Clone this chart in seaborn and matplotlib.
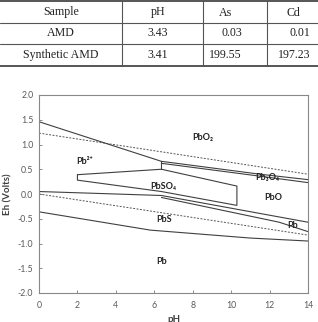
import matplotlib
matplotlib.use("Agg")
import matplotlib.pyplot as plt
from matplotlib.lines import Line2D
import seaborn as sns

# ---- table data ----
col_headers = ["Sample", "pH", "As", "Cd"]
samples = ["AMD", "Synthetic AMD"]
ph_vals = ["3.43", "3.41"]
as_vals = ["0.03", "199.55"]
cd_vals = ["0.01", "197.23"]

# ---- Eh-pH diagram data ----
water_up_ph = [0, 14]
water_up_eh = [1.23, 0.40]
water_lo_ph = [0, 14]
water_lo_eh = [0.0, -0.83]

pbo2_ph = [0, 6.37, 11.5, 14]
pbo2_eh = [1.46, 0.66, 0.40, 0.29]
pb3o4_ph = [6.37, 11.5, 14]
pb3o4_eh = [0.62, 0.36, 0.23]
vert_ph = [6.37, 6.37]
vert_eh = [0.66, 0.50]

poly_ph = [2.0, 6.37, 10.3, 10.3, 6.37, 2.0, 2.0]
poly_eh = [0.39, 0.50, 0.16, -0.23, 0.05, 0.28, 0.39]

pbs_top_ph = [0, 6.37, 14]
pbs_top_eh = [0.05, -0.03, -0.57]
pb_mid_ph = [6.37, 12.5, 14]
pb_mid_eh = [-0.07, -0.57, -0.76]
pb_low_ph = [0, 5.8, 11.0, 14]
pb_low_eh = [-0.36, -0.73, -0.89, -0.95]

labels = ["PbO₂", "Pb²⁺", "PbSO₄", "Pb₃O₄", "PbO", "PbS", "Pb", "Pb"]
label_ph = [8.5, 2.35, 6.45, 11.9, 12.2, 6.5, 13.2, 6.4]
label_eh = [1.15, 0.65, 0.15, 0.34, -0.08, -0.52, -0.63, -1.37]

xticks = [0, 2, 4, 6, 8, 10, 12, 14]
yticks = [-2.0, -1.5, -1.0, -0.5, 0.0, 0.5, 1.0, 1.5, 2.0]

sns.set_style("white")
plt.rcParams['font.family'] = ['Lato', 'DejaVu Sans']

fig = plt.figure(figsize=(3.18, 3.22), dpi=100)

# ---- table ----
W, H = 318.0, 322.0
def fx(px): return px / W
def fy(py): return 1 - py / H

tab_color = "#555555"
fig.add_artist(Line2D([0, 1], [fy(1), fy(1)], color=tab_color, lw=1.4))
fig.add_artist(Line2D([0, 1], [fy(22.7), fy(22.7)], color=tab_color, lw=0.8))
fig.add_artist(Line2D([0, 1], [fy(44), fy(44)], color=tab_color, lw=0.8))
fig.add_artist(Line2D([0, 1], [fy(65.5), fy(65.5)], color=tab_color, lw=1.4))
for vx in [122, 203, 267]:
    fig.add_artist(Line2D([fx(vx), fx(vx)], [fy(1), fy(65.5)], color=tab_color, lw=0.8))

serif = ['Liberation Serif', 'DejaVu Serif']
tfs = 8.6
tc = '#222222'
row_y = [12.5, 33.5, 55]
fig.text(fx(61), fy(row_y[0]), col_headers[0], ha='center', va='center', family=serif, fontsize=tfs, color=tc)
fig.text(fx(158), fy(row_y[0]), col_headers[1], ha='center', va='center', family=serif, fontsize=tfs, color=tc)
fig.text(fx(226), fy(row_y[0]), col_headers[2], ha='center', va='center', family=serif, fontsize=tfs, color=tc)
fig.text(fx(293), fy(row_y[0]), col_headers[3], ha='center', va='center', family=serif, fontsize=tfs, color=tc)
for i in range(len(samples)):
    yy = fy(row_y[i + 1])
    fig.text(fx(61), yy, samples[i], ha='center', va='center', family=serif, fontsize=tfs, color=tc)
    fig.text(fx(158), yy, ph_vals[i], ha='center', va='center', family=serif, fontsize=tfs, color=tc)
    fig.text(fx(242), yy, as_vals[i], ha='right', va='center', family=serif, fontsize=tfs, color=tc)
    fig.text(fx(310), yy, cd_vals[i], ha='right', va='center', family=serif, fontsize=tfs, color=tc)

# ---- plot ----
ax = fig.add_axes([39 / W, 1 - 293 / H, (308 - 39) / W, (293 - 95) / H])

line_c = "#404040"
solid = dict(color=line_c, linewidth=0.8, sort=False, estimator=None, ax=ax)
dash = dict(color="#555555", linewidth=0.7, sort=False, estimator=None, ax=ax, linestyle=(0, (2, 1.5)))

sns.lineplot(x=water_up_ph, y=water_up_eh, **dash)
sns.lineplot(x=water_lo_ph, y=water_lo_eh, **dash)
for xs, ys in [(pbo2_ph, pbo2_eh), (pb3o4_ph, pb3o4_eh), (vert_ph, vert_eh),
               (poly_ph, poly_eh), (pbs_top_ph, pbs_top_eh), (pb_mid_ph, pb_mid_eh),
               (pb_low_ph, pb_low_eh)]:
    sns.lineplot(x=xs, y=ys, **solid)

for t, xx, yy in zip(labels, label_ph, label_eh):
    ax.text(xx, yy, t, ha='center', va='center', fontsize=6.5, fontweight='bold',
            color='#222222', family=['Lato', 'DejaVu Sans'])

ax.set_xlim(0, 14)
ax.set_ylim(-2.0, 2.0)
ax.set_xticks(xticks)
ax.set_yticks(yticks)
ax.set_xticklabels([str(v) for v in xticks])
ax.set_yticklabels([f"{v:.1f}" for v in yticks])
ax.tick_params(axis='both', direction='in', length=2.5, width=0.6, color='#777777',
               labelsize=6.3, labelcolor='#595959', pad=4)
ax.tick_params(axis='x', pad=6)
ax.tick_params(left=True, bottom=True)
for s in ax.spines.values():
    s.set_color('#888888')
    s.set_linewidth(0.8)
ax.set_xlabel("pH", fontsize=7, fontweight='bold', color='#404040', labelpad=3)
ax.set_ylabel("Eh (Volts)", fontsize=7, fontweight='bold', color='#404040', labelpad=4)

fig.savefig("out.png", dpi=100)
